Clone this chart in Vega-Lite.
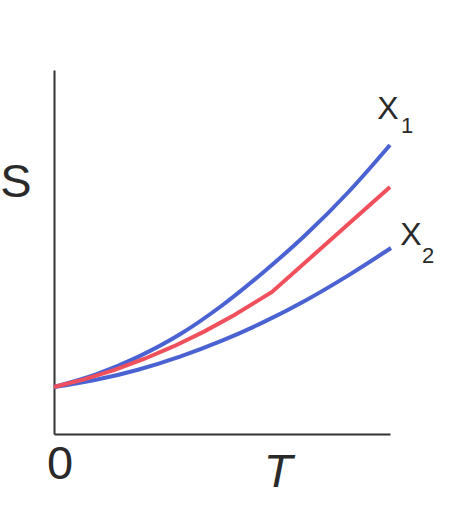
{
  "$schema": "https://vega.github.io/schema/vega-lite/v6.json",
  "width": 336,
  "height": 364,
  "autosize": {"type": "none"},
  "padding": {"left": 54, "top": 70, "right": 84, "bottom": 98},
  "background": "white",
  "config": {"view": {"stroke": null}},
  "datasets": {
    "curves": [
      {"series": "X1", "t": 0, "s": 47},
      {"series": "X1", "t": 42, "s": 59.5},
      {"series": "X1", "t": 84, "s": 77.1},
      {"series": "X1", "t": 126, "s": 99.7},
      {"series": "X1", "t": 168, "s": 128.5},
      {"series": "X1", "t": 210, "s": 162.3},
      {"series": "X1", "t": 252, "s": 199.5},
      {"series": "X1", "t": 294, "s": 241.5},
      {"series": "X1", "t": 336, "s": 289},
      {"series": "X2", "t": 0, "s": 47},
      {"series": "X2", "t": 42, "s": 54.2},
      {"series": "X2", "t": 84, "s": 64.3},
      {"series": "X2", "t": 126, "s": 77.4},
      {"series": "X2", "t": 168, "s": 93.3},
      {"series": "X2", "t": 210, "s": 112.1},
      {"series": "X2", "t": 252, "s": 133.8},
      {"series": "X2", "t": 294, "s": 158.4},
      {"series": "X2", "t": 337, "s": 186}
    ],
    "mix": [
      {"t": 0, "s": 47},
      {"t": 30, "s": 54.6},
      {"t": 60, "s": 63.9},
      {"t": 90, "s": 75.0},
      {"t": 120, "s": 87.8},
      {"t": 150, "s": 102.4},
      {"t": 180, "s": 118.8},
      {"t": 218, "s": 142},
      {"t": 336, "s": 247}
    ],
    "big": [
      {"label": "S", "t": -38, "s": 237},
      {"label": "0", "t": 6, "s": -45}
    ],
    "axisT": [
      {"label": "T", "t": 224, "s": -53}
    ],
    "xnames": [
      {"label": "X", "t": 334, "s": 315},
      {"label": "X", "t": 357, "s": 189}
    ],
    "subs": [
      {"label": "1", "t": 353, "s": 301},
      {"label": "2", "t": 374, "s": 171}
    ]
  },
  "layer": [
    {
      "data": {"name": "curves"},
      "mark": {"type": "line", "color": "#4a62d2", "strokeWidth": 4, "interpolate": "monotone"},
      "encoding": {
        "x": {"field": "t", "type": "quantitative", "scale": {"domain": [0, 336], "nice": false, "zero": false},
          "axis": {"title": null, "labels": false, "ticks": false, "grid": false, "domainColor": "#333333", "domainWidth": 2}},
        "y": {"field": "s", "type": "quantitative", "scale": {"domain": [0, 364], "nice": false, "zero": false},
          "axis": {"title": null, "labels": false, "ticks": false, "grid": false, "domainColor": "#333333", "domainWidth": 2}},
        "detail": {"field": "series"}
      }
    },
    {
      "data": {"name": "mix"},
      "mark": {"type": "line", "color": "#f0505c", "strokeWidth": 4, "interpolate": "linear"},
      "encoding": {
        "x": {"field": "t", "type": "quantitative"},
        "y": {"field": "s", "type": "quantitative"}
      }
    },
    {
      "data": {"name": "big"},
      "mark": {"type": "text", "font": "Liberation Sans", "fontSize": 47, "color": "#2a2a2a", "align": "center", "baseline": "alphabetic"},
      "encoding": {
        "x": {"field": "t", "type": "quantitative"},
        "y": {"field": "s", "type": "quantitative"},
        "text": {"field": "label"}
      }
    },
    {
      "data": {"name": "axisT"},
      "mark": {"type": "text", "font": "Liberation Sans", "fontSize": 47, "fontStyle": "italic", "color": "#2a2a2a", "align": "center", "baseline": "alphabetic"},
      "encoding": {
        "x": {"field": "t", "type": "quantitative"},
        "y": {"field": "s", "type": "quantitative"},
        "text": {"field": "label"}
      }
    },
    {
      "data": {"name": "xnames"},
      "mark": {"type": "text", "font": "Liberation Sans", "fontSize": 32, "color": "#2a2a2a", "align": "center", "baseline": "alphabetic"},
      "encoding": {
        "x": {"field": "t", "type": "quantitative"},
        "y": {"field": "s", "type": "quantitative"},
        "text": {"field": "label"}
      }
    },
    {
      "data": {"name": "subs"},
      "mark": {"type": "text", "font": "Liberation Sans", "fontSize": 22, "color": "#2a2a2a", "align": "center", "baseline": "alphabetic"},
      "encoding": {
        "x": {"field": "t", "type": "quantitative"},
        "y": {"field": "s", "type": "quantitative"},
        "text": {"field": "label"}
      }
    }
  ]
}
